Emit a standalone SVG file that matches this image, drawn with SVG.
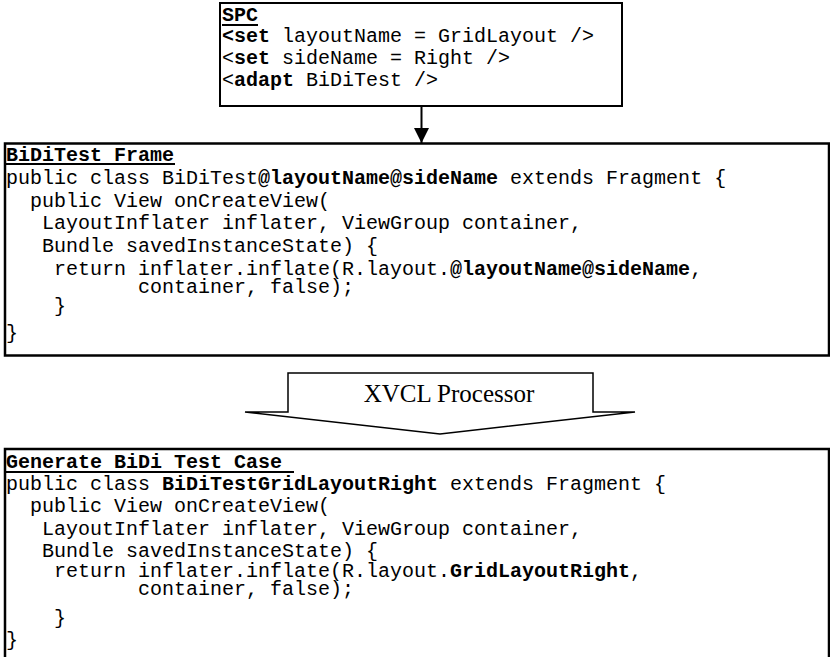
<svg xmlns="http://www.w3.org/2000/svg" width="830" height="657" viewBox="0 0 830 657">
  <style>
    .box { fill: #fff; stroke: #000; }
    .code { font-family: "Liberation Mono", "Courier New", monospace; font-size: 20px; fill: #000; }
    .b { font-weight: bold; }
    .ul { stroke: #000; stroke-width: 2; }
    .label { font-family: "Liberation Serif", "Times New Roman", serif; font-size: 25px; fill: #000; }
  </style>
  <defs>
    <!-- solid triangular head, drawn along +x and rotated with the line -->
    <marker id="arrowhead" markerWidth="15" markerHeight="15" refX="15" refY="7.5" orient="auto" markerUnits="userSpaceOnUse" viewBox="0 0 15 15">
      <path d="M0,0 L15,7.5 L0,15 Z" fill="#000"/>
    </marker>
  </defs>
  <rect width="830" height="657" fill="#fff"/>

  <!-- SPC specification -->
  <g id="spc">
    <rect class="box" x="220" y="3" width="402" height="103" stroke-width="2"/>
    <text class="code b" x="222" y="21">SPC</text>
    <line class="ul" x1="222" y1="25" x2="258" y2="25"/>
    <text class="code" x="222" y="42"><tspan class="b">&lt;set</tspan> layoutName = GridLayout /&gt;</text>
    <text class="code" x="222" y="64">&lt;<tspan class="b">set</tspan> sideName = Right /&gt;</text>
    <text class="code" x="222" y="86">&lt;<tspan class="b">adapt</tspan> BiDiTest /&gt;</text>
  </g>

  <!-- BiDiTest frame template -->
  <g id="frame">
    <rect class="box" x="5" y="143.5" width="824" height="212" stroke-width="2.5"/>
    <text class="code b" x="6" y="161">BiDiTest Frame</text>
    <line class="ul" x1="6" y1="164" x2="175" y2="164"/>
    <text class="code" x="6" y="184">public class BiDiTest<tspan class="b">@layoutName@sideName</tspan> extends Fragment {</text>
    <text class="code" x="30" y="207">public View onCreateView(</text>
    <text class="code" x="42" y="229">LayoutInflater inflater, ViewGroup container,</text>
    <text class="code" x="42" y="252">Bundle savedInstanceState) {</text>
    <text class="code" x="54" y="275">return inflater.inflate(R.layout.<tspan class="b">@layoutName@sideName</tspan>,</text>
    <text class="code" x="138" y="293">container, false);</text>
    <text class="code" x="54" y="312">}</text>
    <text class="code" x="6" y="339">}</text>
  </g>

  <!-- XVCL processor block arrow -->
  <g id="xvcl-processor">
    <path d="M245,412 L288,412 L288,373 L593,373 L593,412 L635,412 L440,434 Z" fill="#fff" stroke="#000" stroke-width="1.5" stroke-linejoin="miter"/>
    <text class="label" x="449" y="402" text-anchor="middle">XVCL Processor</text>
  </g>

  <!-- Generated test case -->
  <g id="generated">
    <rect class="box" x="5" y="449" width="824" height="215" stroke-width="2.5"/>
    <text class="code b" x="6" y="468">Generate BiDi Test Case</text>
    <line class="ul" x1="6" y1="472" x2="294" y2="472"/>
    <text class="code" x="6" y="490">public class <tspan class="b">BiDiTestGridLayoutRight</tspan> extends Fragment {</text>
    <text class="code" x="30" y="512">public View onCreateView(</text>
    <text class="code" x="42" y="535">LayoutInflater inflater, ViewGroup container,</text>
    <text class="code" x="42" y="557">Bundle savedInstanceState) {</text>
    <text class="code" x="54" y="577">return inflater.inflate(R.layout.<tspan class="b">GridLayoutRight</tspan>,</text>
    <text class="code" x="138" y="595">container, false);</text>
    <text class="code" x="54" y="624">}</text>
    <text class="code" x="6" y="646">}</text>
  </g>

  <!-- connectors -->
  <g id="connectors">
    <line x1="421.5" y1="106" x2="421.5" y2="143" stroke="#000" stroke-width="2" marker-end="url(#arrowhead)"/>
  </g>
</svg>
